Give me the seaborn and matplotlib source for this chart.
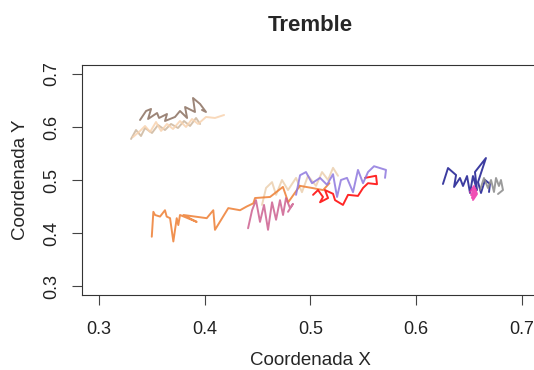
import numpy as np
import pandas as pd
import matplotlib
matplotlib.use("Agg")
import matplotlib.pyplot as plt
import seaborn as sns

title = "Tremble"
xlabel = "Coordenada X"
ylabel = "Coordenada Y"
xticks = [0.3, 0.4, 0.5, 0.6, 0.7]
yticks = [0.3, 0.4, 0.5, 0.6, 0.7]

brown_x = [0.3388, 0.3445, 0.3492, 0.3464, 0.3549, 0.3568, 0.3643, 0.3624, 0.3719, 0.3766, 0.3833, 0.3814, 0.3908, 0.3889, 0.3956, 0.4012, 0.3974]
brown_y = [0.6132, 0.6302, 0.6340, 0.6151, 0.6264, 0.6170, 0.6245, 0.6113, 0.6189, 0.6302, 0.6170, 0.6377, 0.6283, 0.6547, 0.6434, 0.6283, 0.6321]

peach_x = [0.3322, 0.3388, 0.3435, 0.3483, 0.3539, 0.3587, 0.3643, 0.3700, 0.3766, 0.3823, 0.3880, 0.3937, 0.4012, 0.4097, 0.4183]
peach_y = [0.5811, 0.5925, 0.6019, 0.5906, 0.6094, 0.5925, 0.6057, 0.5962, 0.6113, 0.6000, 0.6151, 0.6057, 0.6189, 0.6170, 0.6226]

tan_x = [0.3303, 0.3350, 0.3397, 0.3435, 0.3501, 0.3558, 0.3624, 0.3681, 0.3747, 0.3804, 0.3861, 0.3918, 0.3956]
tan_y = [0.5774, 0.5943, 0.5830, 0.5981, 0.5887, 0.6038, 0.5943, 0.6057, 0.5981, 0.6113, 0.6019, 0.6170, 0.6057]

orange_x = [0.3499, 0.3514, 0.3530, 0.3577, 0.3624, 0.3640, 0.3672, 0.3703, 0.3735, 0.3750, 0.3766, 0.3924, 0.3798, 0.4019, 0.4081, 0.4097, 0.4223, 0.4334, 0.4397, 0.4460, 0.4476, 0.4618, 0.4740, 0.4790, 0.4900, 0.5015, 0.5120, 0.5180]
orange_y = [0.393, 0.440, 0.434, 0.431, 0.443, 0.431, 0.428, 0.384, 0.428, 0.415, 0.434, 0.421, 0.434, 0.428, 0.443, 0.406, 0.447, 0.443, 0.450, 0.456, 0.466, 0.468, 0.487, 0.458, 0.489, 0.485, 0.481, 0.494]

wheat_x = [0.4542, 0.4580, 0.4637, 0.4675, 0.4731, 0.4788, 0.4864, 0.4920, 0.4977, 0.5053, 0.5110, 0.5167, 0.5214, 0.5261]
wheat_y = [0.453, 0.485, 0.496, 0.472, 0.500, 0.481, 0.504, 0.477, 0.508, 0.489, 0.515, 0.500, 0.523, 0.508]

pink_x = [0.4410, 0.4448, 0.4485, 0.4523, 0.4561, 0.4599, 0.4637, 0.4675, 0.4712, 0.4741, 0.4769, 0.4807, 0.4835, 0.4788]
pink_y = [0.409, 0.443, 0.462, 0.421, 0.453, 0.406, 0.458, 0.425, 0.462, 0.434, 0.466, 0.447, 0.455, 0.440]

red_x = [0.5025, 0.5072, 0.5119, 0.5091, 0.5167, 0.5138, 0.5214, 0.5233, 0.5308, 0.5356, 0.5450, 0.5498, 0.5545, 0.5630, 0.5621, 0.5517]
red_y = [0.472, 0.481, 0.468, 0.458, 0.466, 0.481, 0.474, 0.462, 0.453, 0.472, 0.470, 0.485, 0.494, 0.492, 0.508, 0.504]

purple_x = [0.4864, 0.4902, 0.4958, 0.5015, 0.5091, 0.5157, 0.5214, 0.5252, 0.5289, 0.5346, 0.5403, 0.5450, 0.5498, 0.5545, 0.5602, 0.5715, 0.5706]
purple_y = [0.472, 0.509, 0.515, 0.494, 0.504, 0.491, 0.511, 0.468, 0.500, 0.504, 0.477, 0.519, 0.494, 0.515, 0.526, 0.519, 0.504]

navy_x = [0.6254, 0.6302, 0.6378, 0.6359, 0.6415, 0.6444, 0.6482, 0.6510, 0.6538, 0.6576, 0.6557, 0.6661, 0.6586, 0.6614, 0.6652, 0.6699, 0.6690]
navy_y = [0.4925, 0.5226, 0.5094, 0.4868, 0.5038, 0.4887, 0.5075, 0.4755, 0.5075, 0.4811, 0.5151, 0.5415, 0.4962, 0.4755, 0.5000, 0.4925, 0.4774]

magenta_x = [0.6510, 0.6548, 0.6529, 0.6567, 0.6538, 0.6576, 0.6557, 0.6520]
magenta_y = [0.4774, 0.4887, 0.4660, 0.4811, 0.4623, 0.4736, 0.4849, 0.4717]

gray_x = [0.6605, 0.6642, 0.6680, 0.6709, 0.6737, 0.6756, 0.6784, 0.6803, 0.6822, 0.6775]
gray_y = [0.4811, 0.5038, 0.4849, 0.5000, 0.4774, 0.5038, 0.4887, 0.5000, 0.4811, 0.4736]

series = {
    "tan": (tan_x, tan_y, "#CDB79E"),
    "peach": (peach_x, peach_y, "#F8D3B0"),
    "brown": (brown_x, brown_y, "#8B7060"),
    "wheat": (wheat_x, wheat_y, "#EBCFAE"),
    "orange": (orange_x, orange_y, "#EE7E33"),
    "pink": (pink_x, pink_y, "#CD6090"),
    "red": (red_x, red_y, "#FF0000"),
    "purple": (purple_x, purple_y, "#8E78DE"),
    "navy": (navy_x, navy_y, "#1A1A90"),
    "magenta": (magenta_x, magenta_y, "#EE30A7"),
    "gray": (gray_x, gray_y, "#8A8A8A"),
}

rows = []
for name, (xs, ys, _) in series.items():
    for i, (xv, yv) in enumerate(zip(xs, ys)):
        rows.append({"traj": name, "step": i, "x": xv, "y": yv})
df = pd.DataFrame(rows)
palette = {k: v[2] for k, v in series.items()}

sns.set_style("white")
plt.rcParams["font.family"] = ["Liberation Sans", "DejaVu Sans"]

fig = plt.figure(figsize=(5.34, 3.70), dpi=100)
ax = fig.add_axes([0.1538, 0.204, 0.855, 0.619])

sns.lineplot(data=df, x="x", y="y", hue="traj", palette=palette, sort=False,
             estimator=None, units="traj", legend=False, lw=1.4, alpha=0.85, ax=ax)

ax.set_xlim(0.284, 0.716)
ax.set_ylim(0.284, 0.716)
ax.set_xticks(xticks)
ax.set_yticks(yticks)
ax.set_xticklabels([f"{t:.1f}" for t in xticks], fontsize=13, color="#222222")
ax.set_yticklabels([f"{t:.1f}" for t in yticks], fontsize=13, color="#222222",
                   rotation=90, va="center")
ax.tick_params(axis="both", direction="out", length=7.5, width=0.8, color="#444444",
               bottom=True, left=True)
ax.tick_params(axis="x", pad=11.5)
ax.tick_params(axis="y", pad=8)
for s in ax.spines.values():
    s.set_color("#333333")
    s.set_linewidth(0.8)
ax.set_xlabel(xlabel, fontsize=13.5, labelpad=10)
ax.set_ylabel(ylabel, fontsize=13.5, labelpad=10.5)
ax.set_title(title, fontsize=16, fontweight="bold", pad=25)

fig.savefig("out.png", dpi=100)
